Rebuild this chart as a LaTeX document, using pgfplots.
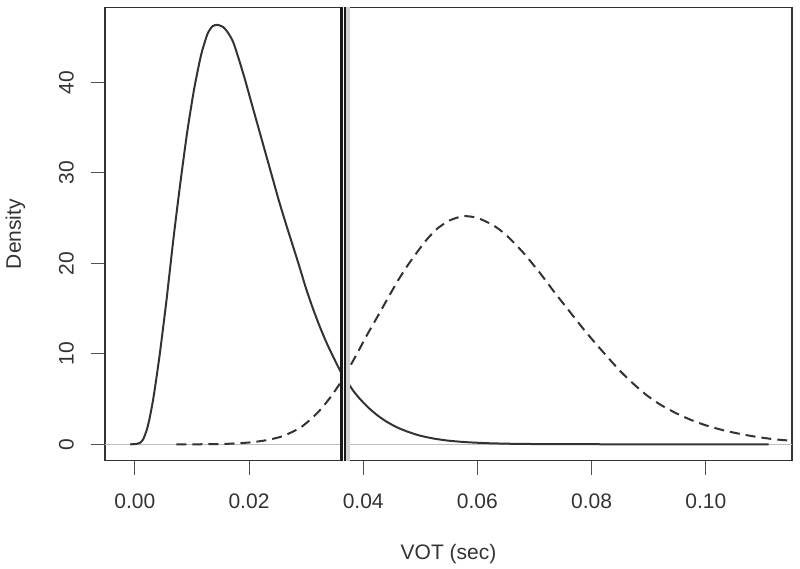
\documentclass[border=0pt]{standalone}
\usepackage{fontspec}
\setmainfont{Liberation Sans}
\usepackage{pgfplots}
\pgfplotsset{compat=1.18}
\definecolor{ink}{HTML}{333333}
\definecolor{zeroline}{HTML}{BEBEBE}
\begin{document}
\begin{tikzpicture}[font=\fontsize{21}{25}\selectfont]
\path[use as bounding box] (-105pt,-107.3pt) rectangle (695pt,460.7pt);
\begin{axis}[
  at={(0pt,0pt)}, anchor=south west,
  scale only axis, width=687pt, height=453.2pt,
  xmin=-0.00522, xmax=0.1151, ymin=-1.81, ymax=48.27,
  axis line style={ink, line width=1.2pt},
  xtick={0,0.02,0.04,0.06,0.08,0.10},
  xticklabels={0.00,0.02,0.04,0.06,0.08,0.10},
  ytick={0,10,20,30,40}, yticklabels={0,10,20,30,40},
  tick pos=left, tick align=outside, major tick length=14pt,
  every tick/.style={ink!85, line width=1pt},
  xticklabel style={anchor=north, inner sep=0pt, text=ink},
  xticklabel shift=18.6pt,
  yticklabel style={rotate=90, anchor=south, inner sep=0pt, text=ink},
  yticklabel shift=17pt,
  xlabel={VOT (sec)}, ylabel={Density},
  every axis x label/.style={at={(axis description cs:0.5,0)}, anchor=base, yshift=-98.3pt, text=ink},
  every axis y label/.style={at={(axis description cs:0,0.5)}, rotate=90, anchor=base, yshift=84pt, text=ink},
]
% zero reference line
\addplot[zeroline, line width=1pt] coordinates {(-0.01,0) (0.12,0)};
% solid density
\addplot[ink, line width=2pt, smooth, tension=0.4] table {
x y
-0.0008 0
0.0003 0.05
0.0010 0.2
0.0015 0.6
0.0021 1.6
0.0026 2.9
0.0032 4.9
0.0038 7.4
0.0044 10.1
0.0050 13.1
0.0056 16.2
0.0068 22.9
0.0080 29.0
0.0092 34.6
0.0104 39.3
0.0116 43.0
0.0127 45.3
0.0136 46.2
0.0145 46.35
0.0155 46.1
0.0163 45.5
0.0172 44.5
0.0182 42.6
0.0193 40.3
0.0204 37.8
0.0216 35.1
0.0228 32.4
0.0240 29.7
0.0252 27.0
0.0264 24.5
0.0276 22.1
0.0288 19.7
0.0300 17.2
0.0312 15.0
0.0324 13.0
0.0336 11.2
0.0348 9.6
0.0360 8.1
0.0372 6.9
0.0384 5.8
0.0396 4.9
0.0410 4.0
0.0425 3.2
0.0441 2.5
0.0460 1.85
0.0480 1.35
0.0500 0.95
0.0525 0.62
0.0550 0.40
0.0580 0.24
0.0620 0.12
0.0670 0.05
0.0750 0.015
0.0900 0.003
0.1110 0
};
% dashed density
\addplot[ink, line width=2pt, dash pattern=on 10pt off 6pt, smooth, tension=0.4] table {
x y
0.0073 0
0.0120 0.01
0.0160 0.05
0.0200 0.2
0.0230 0.45
0.0254 0.8
0.0270 1.2
0.0289 1.8
0.0306 2.65
0.0324 3.75
0.0342 5.15
0.0359 6.7
0.0374 8.3
0.0389 10.0
0.0406 12.0
0.0424 14.0
0.0441 15.9
0.0459 17.9
0.0476 19.6
0.0494 21.2
0.0511 22.6
0.0529 23.8
0.0550 24.7
0.0573 25.2
0.0590 25.15
0.0605 24.9
0.0628 24.2
0.0651 23.1
0.0680 21.2
0.0710 18.9
0.0735 16.8
0.0760 14.8
0.0785 12.8
0.0809 11.0
0.0830 9.5
0.0850 8.1
0.0873 6.7
0.0897 5.4
0.0920 4.4
0.0946 3.5
0.0972 2.75
0.1000 2.1
0.1031 1.55
0.1060 1.15
0.1089 0.82
0.1120 0.56
0.1153 0.38
0.1180 0.27
};
% vertical criterion line with shadow
\addplot[black!18, line width=9pt] coordinates {(0.03690,-5) (0.03690,55)};
\addplot[black!90, line width=5.8pt] coordinates {(0.03652,-5) (0.03652,55)};
\addplot[white, line width=1.5pt] coordinates {(0.03652,-5) (0.03652,55)};
\end{axis}
\end{tikzpicture}
\end{document}
